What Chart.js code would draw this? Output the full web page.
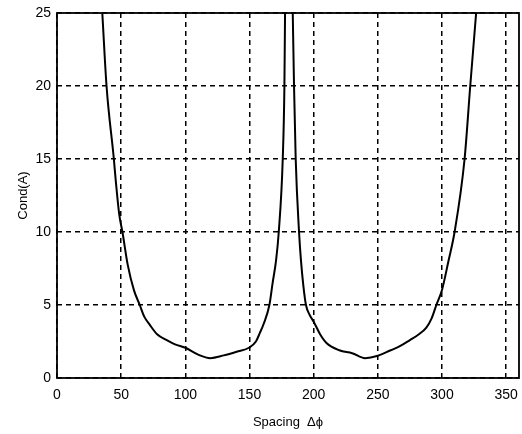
<!DOCTYPE html>
<html>
<head>
<meta charset="utf-8">
<script src="https://cdn.jsdelivr.net/npm/chart.js@4.4.1/dist/chart.umd.min.js"></script>
<style>
  html, body { margin: 0; padding: 0; background: #fff; }
  #wrap { width: 522px; height: 434px; position: relative; }
</style>
</head>
<body>
<div id="wrap"><canvas id="chart"></canvas></div>
<script>
// =====================================
// DATA
// =====================================
const spacing = [
    35.3, 38.6, 44.3, 45.8, 48.5, 51, 55, 60, 64.5, 68, 72.3, 78, 85.2, 92, 100, 110,
    119.4, 130, 140, 150, 155, 158, 161, 165.5, 168, 170.7, 172.8, 175.9, 177.2, 177.7,
    180,
    183.7, 184.7, 186, 188.6, 190.1, 192, 194, 197, 200, 205, 210, 220, 230, 240,
    250, 260, 266.8, 275, 282, 287.8, 292, 295.6, 300, 305, 309.8, 317.6, 322, 326.6
];
const condA = [
    25, 20, 15, 13.5, 11.2, 10, 7.8, 6.0, 5, 4.2, 3.64, 3.0, 2.61, 2.3, 2.07, 1.6,
    1.36, 1.55, 1.8, 2.09, 2.5, 3.07, 3.7, 5, 6.5, 8.06, 10, 15, 20, 25,
    null,
    25, 20, 15, 10, 8.06, 6.3, 5, 4.3, 3.86, 3.0, 2.4, 1.9, 1.7, 1.36,
    1.52, 1.9, 2.16, 2.6, 3.0, 3.45, 4.1, 5, 6.03, 8, 10, 15, 20, 25
];
const xTicks = [0, 50, 100, 150, 200, 250, 300, 350];
const yTicks = [0, 5, 10, 15, 20, 25];

const FONT = { family: "'Liberation Sans', Arial, sans-serif", size: 14 };

// frame around the plot area
const framePlugin = {
    id: "frame",
    afterDraw(c) {
        const a = c.chartArea, ctx = c.ctx;
        ctx.save();
        ctx.setLineDash([]);
        ctx.strokeStyle = "#000";
        ctx.lineWidth = 1.8;
        ctx.strokeRect(a.left, a.top, a.right - a.left, a.bottom - a.top);
        ctx.restore();
    }
};

const ctx = document.getElementById("chart").getContext("2d");
new Chart(ctx, {
    type: "line",
    data: {
        datasets: [{
            data: spacing.map((x, i) => ({ x: x, y: condA[i] })),
            borderColor: "#000",
            borderWidth: 2,
            pointRadius: 0,
            cubicInterpolationMode: "monotone",
            spanGaps: false,
            fill: false
        }]
    },
    options: {
        responsive: true,
        maintainAspectRatio: false,
        animation: false,
        layout: { padding: { top: 13, right: 3, left: 0, bottom: 0 } },
        plugins: { legend: { display: false }, tooltip: { enabled: false } },
        scales: {
            x: {
                type: "linear",
                min: 0, max: 360,
                afterBuildTicks: s => { s.ticks = xTicks.map(v => ({ value: v })); },
                afterFit: s => { s.height = 56; s.paddingLeft = 0; s.paddingRight = 0; },
                grid: { color: "#000", lineWidth: 1.5, drawTicks: false },
                border: { display: false, dash: [5, 4] },
                ticks: { color: "#000", font: FONT, padding: 9, maxRotation: 0 },
                title: { display: true, text: "Spacing  Δϕ", color: "#000", font: { family: FONT.family, size: 13 }, padding: { top: 4 } }
            },
            y: {
                min: 0, max: 25,
                afterBuildTicks: s => { s.ticks = yTicks.map(v => ({ value: v })); },
                afterFit: s => { s.width = 57; s.paddingTop = 0; s.paddingBottom = 0; },
                grid: { color: "#000", lineWidth: 1.5, drawTicks: false },
                border: { display: false, dash: [5, 4] },
                ticks: { color: "#000", font: FONT, padding: 6 },
                title: { display: true, text: "Cond(A)", color: "#000", font: { family: FONT.family, size: 13 }, padding: { top: 16, bottom: 0 } }
            }
        }
    },
    plugins: [framePlugin]
});
</script>
</body>
</html>
